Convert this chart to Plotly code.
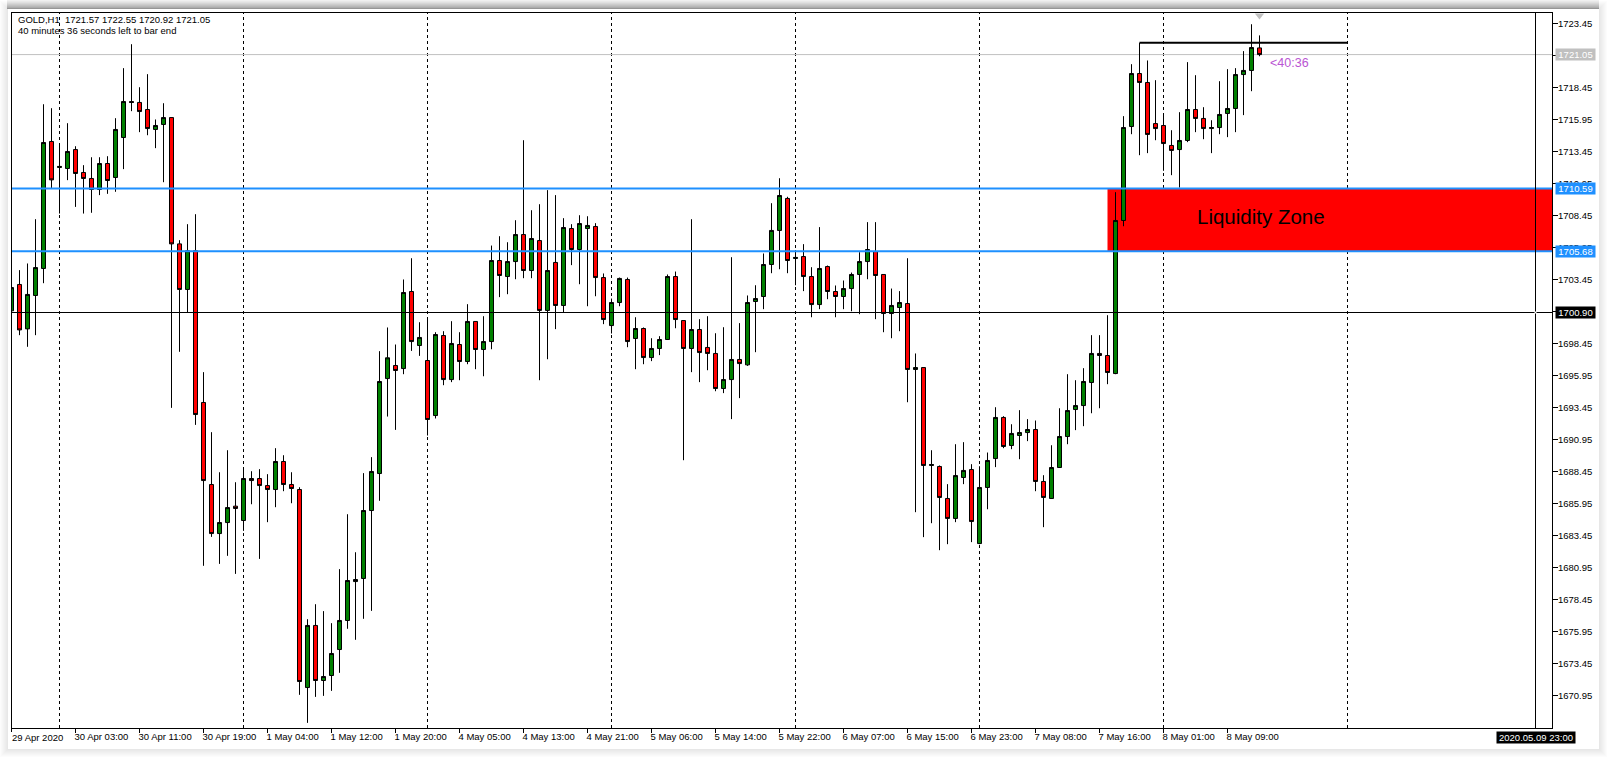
import plotly.graph_objects as go

# GOLD H1 bars
opens = [1701.03, 1703.09, 1699.62, 1702.23, 1704.34, 1714.26, 1712.23, 1712.15, 1713.63, 1711.84,
         1711.37, 1710.51, 1712.54, 1711.45, 1714.57, 1717.38, 1717.31, 1716.76, 1715.20, 1715.59,
         1716.13, 1706.26, 1702.70, 1705.72, 1693.87, 1687.46, 1683.63, 1684.49, 1685.77, 1684.65,
         1687.93, 1687.93, 1687.38, 1687.07, 1689.26, 1687.46, 1687.07, 1671.60, 1676.45, 1672.15,
         1672.54, 1674.57, 1676.84, 1679.88, 1680.12, 1685.43, 1688.32, 1695.74, 1696.76, 1696.52,
         1702.54, 1698.32, 1697.15, 1692.85, 1699.10, 1695.66, 1698.40, 1697.07, 1700.20, 1698.01,
         1698.63, 1704.96, 1703.71, 1704.88, 1706.99, 1704.18, 1706.52, 1701.06, 1704.81, 1701.45,
         1707.46, 1705.82, 1707.46, 1707.62, 1703.63, 1699.88, 1701.68, 1703.48, 1698.87, 1699.65,
         1697.38, 1698.09, 1698.79, 1703.71, 1700.27, 1698.09, 1699.57, 1698.17, 1697.70, 1694.96,
         1695.66, 1697.23, 1696.81, 1701.76, 1702.15, 1704.65, 1707.31, 1709.81, 1705.12, 1705.27,
         1703.71, 1701.52, 1704.49, 1702.54, 1702.15, 1702.77, 1703.87, 1704.88, 1705.66, 1703.87,
         1700.82, 1701.29, 1701.60, 1696.45, 1696.60, 1688.95, 1688.87, 1686.37, 1684.81, 1688.01,
         1688.63, 1682.85, 1687.23, 1689.49, 1692.70, 1690.51, 1691.29, 1691.52, 1691.76, 1687.70,
         1686.37, 1688.79, 1691.21, 1693.32, 1693.63, 1695.43, 1697.70, 1697.54, 1696.13, 1708.09,
         1715.43, 1719.57, 1718.87, 1715.66, 1715.51, 1713.95, 1713.63, 1714.34, 1716.76, 1716.06,
         1715.27, 1715.35, 1716.45, 1716.84, 1719.49, 1719.81, 1721.57]
highs = [1703.95, 1704.21, 1704.73, 1708.19, 1717.17, 1716.86, 1714.05, 1715.69, 1713.89, 1712.41,
         1713.03, 1713.03, 1713.11, 1716.08, 1719.99, 1721.86, 1718.50, 1719.52, 1715.98, 1717.25,
         1716.13, 1706.55, 1707.80, 1708.58, 1696.24, 1691.55, 1688.42, 1690.14, 1687.64, 1688.71,
         1688.50, 1688.66, 1688.27, 1690.30, 1689.75, 1688.42, 1687.25, 1676.94, 1678.11, 1677.57,
         1676.63, 1680.85, 1685.14, 1682.17, 1688.35, 1689.60, 1697.88, 1699.73, 1698.40, 1703.48,
         1705.14, 1700.14, 1700.43, 1699.36, 1699.44, 1700.22, 1699.36, 1701.55, 1700.20, 1700.61,
         1706.13, 1706.86, 1706.39, 1708.11, 1714.36, 1708.89, 1709.36, 1710.46, 1710.07, 1708.27,
         1707.80, 1708.50, 1708.42, 1707.88, 1703.95, 1701.99, 1703.63, 1703.63, 1700.53, 1699.73,
         1698.89, 1699.05, 1703.87, 1704.10, 1700.27, 1708.19, 1700.38, 1700.61, 1699.28, 1699.75,
         1705.22, 1700.07, 1702.23, 1703.03, 1705.51, 1709.44, 1711.39, 1709.94, 1705.77, 1706.24,
         1704.44, 1707.57, 1704.57, 1703.01, 1703.40, 1704.02, 1705.61, 1707.96, 1707.96, 1703.87,
         1702.77, 1702.57, 1705.14, 1697.70, 1696.60, 1690.14, 1688.95, 1687.49, 1690.61, 1690.77,
         1689.05, 1688.89, 1689.96, 1693.50, 1692.80, 1692.17, 1693.27, 1692.57, 1692.46, 1688.19,
         1690.53, 1693.42, 1696.08, 1695.61, 1696.55, 1699.13, 1699.13, 1700.69, 1710.30, 1716.24,
         1720.30, 1721.97, 1720.59, 1719.05, 1716.37, 1715.14, 1716.55, 1720.46, 1719.44, 1716.94,
         1715.92, 1718.97, 1719.91, 1719.99, 1721.32, 1723.42, 1722.55]
lows = [1699.26, 1699.13, 1698.22, 1699.13, 1703.19, 1710.61, 1708.63, 1711.24, 1709.15, 1708.63,
        1708.69, 1710.07, 1710.17, 1710.33, 1712.10, 1716.63, 1714.99, 1714.75, 1713.74, 1711.08,
        1693.45, 1697.83, 1700.90, 1692.12, 1681.11, 1683.37, 1681.26, 1681.89, 1680.48, 1683.84,
        1685.92, 1681.65, 1684.52, 1685.69, 1686.94, 1686.00, 1671.03, 1668.84, 1670.87, 1670.95,
        1671.34, 1672.75, 1676.19, 1675.33, 1676.97, 1677.59, 1686.19, 1692.77, 1691.73, 1696.08,
        1697.90, 1697.51, 1691.29, 1692.62, 1695.22, 1695.46, 1695.61, 1696.86, 1696.47, 1695.92,
        1698.03, 1702.10, 1702.33, 1703.50, 1703.58, 1703.58, 1695.61, 1697.25, 1699.60, 1700.90,
        1704.60, 1703.11, 1701.39, 1702.17, 1699.99, 1699.26, 1701.39, 1698.19, 1696.47, 1696.86,
        1697.10, 1697.57, 1698.79, 1699.67, 1689.36, 1696.24, 1695.46, 1696.39, 1694.75, 1694.60,
        1692.57, 1694.21, 1696.73, 1697.80, 1701.16, 1703.97, 1704.28, 1703.97, 1703.03, 1702.57,
        1700.53, 1701.16, 1701.94, 1700.53, 1701.16, 1701.00, 1700.77, 1703.50, 1700.38, 1699.36,
        1698.89, 1699.44, 1693.89, 1685.30, 1683.35, 1684.44, 1682.33, 1682.80, 1684.52, 1687.49,
        1682.96, 1682.80, 1685.53, 1688.82, 1690.30, 1690.22, 1689.44, 1690.85, 1686.94, 1684.13,
        1686.34, 1688.79, 1690.61, 1691.71, 1692.02, 1693.03, 1693.42, 1695.30, 1696.08, 1707.64,
        1714.83, 1713.19, 1713.35, 1714.36, 1711.97, 1711.63, 1710.66, 1714.21, 1714.99, 1714.44,
        1713.35, 1714.83, 1714.60, 1714.99, 1716.32, 1718.19, 1720.92]
closes = [1702.85, 1699.54, 1702.31, 1704.41, 1714.18, 1711.26, 1712.31, 1713.48, 1711.76, 1711.37,
          1710.51, 1712.54, 1711.21, 1715.20, 1717.38, 1717.31, 1716.60, 1715.27, 1715.51, 1716.13,
          1706.26, 1702.70, 1705.72, 1692.93, 1687.77, 1683.63, 1684.49, 1685.66, 1685.59, 1687.93,
          1687.77, 1687.38, 1687.07, 1689.26, 1687.46, 1687.15, 1672.07, 1676.45, 1672.15, 1672.46,
          1674.26, 1676.84, 1679.96, 1680.04, 1685.43, 1688.48, 1695.51, 1697.36, 1696.37, 1702.46,
          1698.63, 1698.95, 1692.54, 1699.18, 1695.66, 1698.48, 1697.07, 1700.20, 1698.01, 1698.63,
          1704.96, 1703.79, 1704.88, 1706.99, 1704.18, 1706.68, 1701.06, 1704.18, 1701.45, 1707.54,
          1705.82, 1707.85, 1707.70, 1703.63, 1700.35, 1701.68, 1703.56, 1698.63, 1699.65, 1697.38,
          1698.09, 1698.79, 1703.71, 1700.35, 1698.09, 1699.57, 1697.77, 1697.70, 1694.96, 1695.66,
          1697.23, 1696.91, 1701.68, 1701.99, 1704.65, 1707.31, 1710.04, 1704.96, 1705.20, 1703.71,
          1701.52, 1704.34, 1702.54, 1702.15, 1702.77, 1703.87, 1704.88, 1705.82, 1703.79, 1700.82,
          1701.45, 1701.68, 1696.45, 1696.60, 1688.95, 1689.02, 1686.45, 1684.81, 1688.16, 1688.56,
          1684.57, 1687.23, 1689.34, 1692.70, 1690.43, 1691.45, 1691.52, 1691.76, 1687.70, 1686.45,
          1688.79, 1691.21, 1693.24, 1693.63, 1695.51, 1697.70, 1697.54, 1696.21, 1708.09, 1715.35,
          1719.57, 1718.87, 1714.81, 1715.27, 1714.10, 1713.56, 1714.34, 1716.76, 1716.06, 1715.27,
          1715.35, 1716.37, 1716.84, 1719.49, 1719.81, 1721.60, 1721.05]
bars = list(range(len(opens)))

time_labels = ['29 Apr 2020', '30 Apr 03:00', '30 Apr 11:00', '30 Apr 19:00', '1 May 04:00',
               '1 May 12:00', '1 May 20:00', '4 May 05:00', '4 May 13:00', '4 May 21:00',
               '5 May 06:00', '5 May 14:00', '5 May 22:00', '6 May 07:00', '6 May 15:00',
               '6 May 23:00', '7 May 08:00', '7 May 16:00', '8 May 01:00', '8 May 09:00']
price_ticks = [1723.45, 1720.95, 1718.45, 1715.95, 1713.45, 1710.95, 1708.45, 1705.95, 1703.45,
               1700.95, 1698.45, 1695.95, 1693.45, 1690.95, 1688.45, 1685.95, 1683.45, 1680.95,
               1678.45, 1675.95, 1673.45, 1670.95]
day_breaks = [6, 29, 52, 75, 98, 121, 144, 167]

bid_price = 1721.05
zone_top = 1710.59
zone_bottom = 1705.68
level_price = 1700.90
zone_start = 137
trend_price = 1721.97
trend_start = 141
trend_end = 167
cross_bar = 190.5

# page geometry, the plot area sits inside a card with a drop shadow
# whole pixels, plotly rounds margins anyway
W, H = 1607, 759
L, R, T, B = 12, 1552, 13, 728
CARD = (8, 9, 1599, 749)
BAR_PX = 8
FIRST_BAR_PX = 11.5  # centre of bar 0, keeps the wicks on a pixel
LEVEL_PX = 312.5
PX_PER_PRICE = 12.8

x_range = [(L - FIRST_BAR_PX) / BAR_PX, (R - FIRST_BAR_PX) / BAR_PX]
y_range = [level_price - (B - LEVEL_PX) / PX_PER_PRICE, level_price + (LEVEL_PX - T) / PX_PER_PRICE]

FONT = 'Liberation Sans, sans-serif'
TEXT_SIZE = 9.5
TAG_FONT = dict(family=FONT, size=TEXT_SIZE, color='white')


def px_x(px):
    return (px - L) / (R - L)


def px_y(py):
    return (B - py) / (B - T)


def page_rect(x0, y0, x1, y1, color):
    return dict(type='rect', xref='paper', yref='paper', x0=px_x(x0), x1=px_x(x1),
                y0=px_y(y1), y1=px_y(y0), fillcolor=color, line_width=0, layer='below')


def hline(price, color, width, x0=0, x1=1, xref='x domain', layer='above'):
    return dict(type='line', xref=xref, yref='y', x0=x0, x1=x1, y0=price, y1=price,
                line=dict(color=color, width=width), layer=layer)


shapes = []

# shadow round the card
for k in range(8, 0, -1):
    level = 255 - (9 - k) * 3
    shapes.append(page_rect(CARD[0] - k, CARD[1] - k, CARD[2] + k, CARD[3] + k,
                            f'rgb({level},{level},{level})'))
for k, level in enumerate([240, 232, 224, 214, 204, 194, 184, 172, 150]):
    shapes.append(page_rect(CARD[0] - 1, k, CARD[2], k + 1, f'rgb({level},{level},{level})'))
shapes.append(page_rect(*CARD, 'white'))

# liquidity zone and grid go under the candles
shapes.append(dict(type='rect', xref='x', yref='y', x0=zone_start, x1=x_range[1],
                   y0=zone_bottom, y1=zone_top, fillcolor='#ff0000', line_width=0, layer='below'))
for d in day_breaks:
    shapes.append(dict(type='line', xref='x', yref='y domain', x0=d, x1=d, y0=0, y1=1,
                       line=dict(color='black', width=1, dash='3px,3px'), layer='below'))
shapes.append(hline(bid_price, '#c0c0c0', 1, layer='below'))

shapes.append(hline(zone_top, '#1e90ff', 2))
shapes.append(hline(zone_bottom, '#1e90ff', 2))
shapes.append(hline(level_price, 'black', 1))
shapes.append(dict(type='line', xref='x', yref='y domain', x0=cross_bar, x1=cross_bar, y0=0, y1=1,
                   line=dict(color='black', width=1), layer='above'))
shapes.append(hline(trend_price, 'black', 2, trend_start, trend_end, 'x'))
# white dot where the two black lines cross
shapes.append(dict(type='rect', xref='x', yref='y', xsizemode='pixel', ysizemode='pixel',
                   xanchor=cross_bar, yanchor=level_price, x0=-1, x1=1, y0=-1, y1=1,
                   fillcolor='white', line_width=0, layer='above'))
# bar 0 falls just left of the range, so its tick mark and label are placed by hand
shapes.append(dict(type='line', xref='paper', yref='paper', x0=px_x(FIRST_BAR_PX), x1=px_x(FIRST_BAR_PX),
                   y0=0, y1=px_y(B + 4), line=dict(color='black', width=1), layer='above'))

fig = go.Figure()
fig.add_trace(go.Candlestick(
    x=bars, open=opens, high=highs, low=lows, close=closes,
    increasing=dict(fillcolor='#008000', line=dict(color='black', width=1)),
    decreasing=dict(fillcolor='#ff0000', line=dict(color='black', width=1)),
    whiskerwidth=0, showlegend=False,
))
# little grey marker on top of the last bar
fig.add_trace(go.Scatter(x=[bars[-1]], y=[1724.1], mode='markers', showlegend=False,
                         marker=dict(symbol='triangle-down', size=8, color='#c0c0c0')))

annotations = [
    dict(xref='paper', yref='paper', x=px_x(15.5), y=px_y(19.5), xanchor='left', yanchor='middle',
         text='GOLD,H1  1721.57 1722.55 1720.92 1721.05', showarrow=False,
         font=dict(family=FONT, size=TEXT_SIZE, color='black')),
    dict(xref='paper', yref='paper', x=px_x(15.5), y=px_y(30.5), xanchor='left', yanchor='middle',
         text='40 minutes 36 seconds left to bar end', showarrow=False,
         font=dict(family=FONT, size=TEXT_SIZE, color='black')),
    dict(xref='x', yref='y', x=156.2, y=(zone_top + zone_bottom) / 2, yshift=3, text='Liquidity Zone',
         showarrow=False, font=dict(family='Liberation Sans', size=20.5, color='black')),
    dict(xref='x', yref='y', x=bars[-1], y=1720.42, xanchor='left', xshift=8, text='<40:36',
         showarrow=False, font=dict(family='Liberation Sans', size=12.5, color='#ba55d3')),
    dict(xref='x', yref='paper', x=cross_bar, y=px_y(737.5), yanchor='middle', text='2020.05.09 23:00',
         showarrow=False, bgcolor='black', borderpad=0, width=78, height=11, font=TAG_FONT),
    dict(xref='paper', yref='paper', x=px_x(9.5), y=px_y(737.5), xanchor='left', yanchor='middle',
         text=time_labels[0], showarrow=False, font=dict(family=FONT, size=TEXT_SIZE, color='black')),
]
for price, label, color in [(bid_price, '1721.05', '#c0c0c0'), (zone_top, '1710.59', '#1e90ff'),
                            (zone_bottom, '1705.68', '#1e90ff'), (level_price, '1700.90', 'black')]:
    annotations.append(dict(xref='paper', yref='y', x=1, xshift=3, xanchor='left', y=price, text=label,
                            showarrow=False, bgcolor=color, borderpad=0, width=39, height=11,
                            font=TAG_FONT))

fig.update_layout(
    width=W, height=H, autosize=False,
    margin=dict(l=L, r=W - R, t=T, b=H - B, pad=0),
    paper_bgcolor='white', plot_bgcolor='rgba(0,0,0,0)',
    showlegend=False, boxgap=0.5, boxgroupgap=0,
    shapes=shapes, annotations=annotations,
    font=dict(family=FONT, size=TEXT_SIZE, color='black'),
)
fig.update_xaxes(
    range=x_range, rangeslider_visible=False, showgrid=False, zeroline=False, automargin=False,
    showline=True, linecolor='black', linewidth=1, mirror=True,
    tickmode='array', tickvals=bars[8::8], ticktext=time_labels[1:], tickangle=0,
    ticks='outside', ticklen=4, tickcolor='black', ticklabelposition='outside right', ticklabelshift=-2,
    tickfont=dict(family=FONT, size=TEXT_SIZE, color='black'),
)
fig.update_yaxes(
    range=y_range,
    side='right', showgrid=False, zeroline=False, automargin=False,
    showline=True, linecolor='black', linewidth=1, mirror=True,
    tickmode='array', tickvals=price_ticks, ticktext=[f'{p:.2f}' for p in price_ticks],
    ticks='outside', ticklen=5, tickcolor='black', ticklabelstandoff=-2,
    tickfont=dict(family=FONT, size=TEXT_SIZE, color='black'),
)

fig.write_html("out.html", config=dict(displayModeBar=False),
               post_script="document.body.style.margin='0';document.body.style.overflow='hidden';")
